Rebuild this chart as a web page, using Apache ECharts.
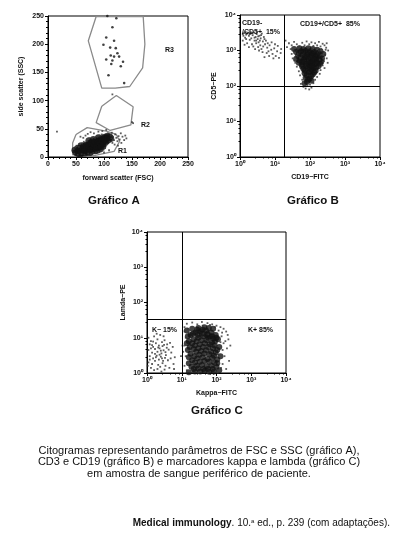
<!DOCTYPE html>
<html><head><meta charset="utf-8">
<script src="https://cdn.jsdelivr.net/npm/echarts@6/dist/echarts.min.js"></script>
<style>html,body{margin:0;padding:0;background:#fff}#c{width:398px;height:536px}</style>
</head><body><div id="c"></div>
<script>
// ---------- Tick labels ----------
const linTicks = [0, 50, 100, 150, 200, 250];
const logTickLabels = ['10\u2070', '10\u00b9', '10\u00b2', '10\u00b3', '10\u2074'];

// ---------- Gráfico A (FSC, SSC) ----------
const aCore = [[50,9],[54,12],[52,7],[57,10],[58,15],[61,8],[62,13],[63,18],[66,11],[67,16],[68,21],[70,9],[71,14],[72,19],[74,24],[75,12],[76,17],[78,22],[79,27],[80,14],[82,19],[83,25],[85,16],[86,21],[87,29],[88,12],[89,24],[91,18],[92,28],[94,22],[95,32],[97,26],[98,19],[100,30],[101,35],[103,27],[104,33],[106,37],[108,31],[78,10],[84,11],[66,7],[59,20],[73,29],[93,14],[55,6],[81,31],[90,34],
  [48,12],[53,15],[56,8],[60,12],[64,15],[65,20],[69,12],[70,17],[73,21],[77,14],[77,25],[81,17],[82,23],[84,28],[86,14],[87,19],[90,22],[90,27],[93,25],[95,18],[96,29],[99,23],[99,33],[102,30],[105,29],[107,34],[110,36],[112,33],[75,8],[63,9],[58,5]];
const aDots = [[46,14],[47,6],[49,17],[51,20],[53,4],[55,18],[56,23],[60,5],[61,24],[64,27],[65,4],[69,28],[72,6],[74,33],[77,5],[79,33],[81,7],[84,34],[86,8],[88,37],[90,9],[92,38],[95,11],[96,40],[99,13],[102,16],[105,22],[107,42],[110,27],[112,38],[113,33],[114,43],[116,36],[118,30],[120,40],[122,34],[124,28],[126,37],[128,31],[130,42],[133,36],[136,30],[138,38],[140,33],[16,45],[58,36],[63,34],[67,38],[71,41],[76,44],[82,42],[90,45],[97,46],[104,48],[115,25],[119,22],[125,20],[131,25],[109,12],[100,8],[115,111],[150,62],[152,60]];
const aR3Dots = [[122,246],[115,230],[104,212],[118,206],[99,199],[111,194],[121,193],[124,184],[112,180],[118,178],[127,178],[104,173],[115,171],[134,169],[113,165],[130,161],[108,145],[136,131],[106,250]];
const gateR1 = [[50,40],[70,52],[104,46],[122,40],[128,28],[118,10],[80,2],[44,4],[44,25],[50,40]];
const gateR2 = [[96,90],[122,109],[152,89],[148,57],[111,47],[86,61],[96,90]];
const gateR3 = [[86,249],[170,249],[173,200],[169,158],[146,125],[120,122],[96,122],[72,206],[86,249]];

// ---------- Gráfico B (CD19-FITC, CD5-PE) ----------
const bLeft = [[1.3,3100],[1.5,2800],[1.4,2300],[1.7,3200],[1.8,2600],[2.0,3000],[2.1,2200],[2.3,2700],[2.5,3200],[2.6,1900],[2.8,2400],[3.0,2900],[3.2,2100],[3.4,1700],[3.6,2600],[3.9,2200],[4.2,3000],[4.5,1800],[4.8,2400],[5.2,1500],[1.2,1900],[1.6,1600],[1.9,2000],[2.2,1500],[2.4,1300],[2.9,1600],[3.3,1250],[3.8,1400],[4.1,1100],[4.6,1300],[5.5,1900],[6.0,1200],[6.5,950],[7.0,1400],[7.8,1050],[8.5,800],[9.5,1150],[10.5,700],[11.5,950],[13,620],[14.5,850],[12,1350],[9,600],[6.8,700],[5.8,850],[4.4,900],[3.5,1000],[2.7,1100],[1.8,1250],[1.35,1450],[8.0,1700],[10,1500],[1.25,2600],[2.0,3250],[3.0,3300],[1.6,3000],[15,1100],[5,650],[1.45,3300],[2.2,3200],[1.9,2900],[2.6,2300],[3.3,2500],[1.5,2100],[2.9,1900],[1.2,2900],[4.0,2700],[5.0,2100],[6.2,1600],[3.7,1900]];
const bCore = [[40,900],[55,950],[75,1000],[100,950],[130,900],[170,850],[45,700],[62,750],[85,780],[110,720],[145,700],[190,650],[50,520],[68,560],[90,600],[120,540],[160,500],[210,480],[58,400],[78,420],[100,380],[135,410],[175,360],[65,300],[85,320],[110,290],[145,270],[70,230],[92,240],[120,210],[75,170],[98,160],[82,130],[105,450],[72,650],[150,600],[95,500],[125,320],[60,480],[115,820],
  [35,1100],[50,1150],[65,1100],[90,1150],[120,1100],[160,1050],[200,950],[240,800],[220,600],[48,850],[65,900],[88,880],[125,780],[160,720],[40,580],[55,640],[80,680],[105,620],[135,560],[180,560],[48,450],[68,480],[90,430],[118,460],[155,440],[195,420],[60,350],[78,360],[98,330],[118,360],[150,330],[72,270],[102,260],[132,240],[80,200],[108,190],[88,150],[110,140],[70,120]];
const bDots = [[20,1900],[25,1600],[30,1400],[22,1250],[35,1750],[42,1500],[50,1300],[60,1650],[70,1400],[80,1800],[95,1500],[110,1700],[125,1350],[140,1600],[160,1400],[180,1750],[200,1300],[230,1550],[260,1400],[290,1200],[300,1600],[28,1100],[35,950],[30,800],[32,600],[38,450],[42,350],[48,260],[52,200],[240,900],[270,750],[300,600],[250,500],[230,380],[260,320],[200,280],[190,220],[160,180],[140,150],[125,120],[60,150],[55,115],[65,95],[85,100],[100,110],[110,90],[75,85],[95,80],[330,1000],[320,450],[280,1050],[210,1100],[150,1150],[45,1150],[65,1200],[88,1150],[115,1100],[180,1000],[220,750],[190,550],[38,650],[44,800],[52,620],[36,520]];
const bQuadX = 18.5, bQuadY = 100;

// ---------- Gráfico C (Kappa-FITC, Lamda-PE) ----------
const cLeft = [[1.1,10],[1.3,8],[1.6,11],[2.0,9],[2.4,12],[1.2,6.5],[1.5,5.5],[1.8,7],[2.2,6],[2.7,7.5],[3.2,8.5],[3.8,6.5],[1.1,4.5],[1.4,3.8],[1.7,4.8],[2.0,4.0],[2.3,5.0],[2.6,3.6],[3.0,4.4],[3.5,3.2],[4.2,4.6],[5.0,3.8],[1.2,3.0],[1.5,2.6],[1.9,3.1],[2.2,2.4],[2.5,2.9],[2.9,2.2],[3.3,2.7],[4.0,2.3],[4.8,2.6],[1.1,2.0],[1.4,1.8],[1.7,2.2],[2.1,1.7],[2.4,1.5],[2.8,1.9],[3.4,1.6],[4.4,1.4],[5.8,1.8],[1.3,1.4],[1.6,1.2],[2.0,1.3],[2.6,1.1],[3.2,1.25],[6.3,2.8],[5.5,5.5],[4.6,7.2],[3.0,11],[1.9,13],[2.8,5.8],[3.7,5.2],[1.3,5],[2.3,3.3],[1.8,2.8],[2.7,2.6],[6.0,1.3],[1.05,1.6],[9.5,3],[10.5,6],[1.5,7.8],[2.1,5.3],[3.4,3.9],[1.2,2.4],[1.7,3.5],[2.5,4.3],[1.4,6.2],[3.1,6.3]];
const cCore = [[18,12],[25,14],[35,15],[50,16],[70,14],[95,12],[16,8],[22,9],[30,10],[42,11],[58,10],[80,9.5],[110,9],[17,5.5],[24,6],[33,6.5],[46,7],[64,6.5],[88,6],[120,5.5],[18,3.5],[26,4],[36,4.2],[50,4.5],[70,4],[95,3.8],[20,2.3],[28,2.6],[40,2.8],[55,2.5],[76,2.7],[105,2.4],[19,1.5],[27,1.6],[38,1.7],[52,1.55],[72,1.6],[100,1.5],[24,1.1],[34,1.1],[46,1.15],[62,1.08],[85,1.1],[16,1.05],[120,1.2],[130,3],[45,20],[60,19],[80,18],[30,19],
  [14,16],[20,18],[28,17],[40,17],[55,13],[75,11],[100,10],[15,11],[21,13],[29,12],[38,13],[52,12],[65,11],[90,8],[14,7],[20,7],[27,8],[37,8.5],[52,8.5],[74,7.5],[15,4.5],[22,4.8],[30,5],[41,5.5],[58,5.5],[80,5],[105,4.5],[16,2.8],[23,3],[32,3.3],[45,3.6],[62,3.4],[85,3.1],[16,1.9],[24,2],[33,2.1],[45,2.2],[62,2.1],[88,2],[22,1.3],[30,1.35],[42,1.3],[57,1.3],[78,1.3],[105,1.9]];
const cDots = [[12,20],[14,25],[20,27],[28,24],[38,28],[55,26],[75,24],[100,22],[130,20],[160,18],[190,15],[210,12],[180,8],[200,5],[170,3],[150,1.8],[190,1.3],[230,2.2],[140,11],[160,7],[12,15],[13,10],[12,6],[13,3],[12,1.6],[14,1.2],[15,18],[11,4],[250,6],[220,9],[145,14],[115,16],[90,20],[65,23],[40,22],[25,18],[150,4.5],[135,1.4],[110,1.03],[56,1.02],[30,1.02],[42,13],[85,14],[58,12.5],[32,7.8],[48,5.5],[68,8],[100,7],[130,7.5],[28,3.2],[42,3.5],[62,3.2],[85,2.2],[115,3.3],[22,1.9],[48,2],[66,1.9],[92,1.8],[110,1.25]];
const cQuadX = 10, cQuadY = 33;

// ---------- Text ----------
const titles = ['Gráfico A', 'Gráfico B', 'Gráfico C'];
const captionLines = [
  'Citogramas representando parâmetros de FSC e SSC (gráfico A),',
  'CD3 e CD19 (gráfico B) e marcadores kappa e lambda (gráfico C)',
  'em amostra de sangue periférico de paciente.'
];

// ---------- Build ----------
const FONT = '"Liberation Sans", Arial, sans-serif';
const tickLbl = {fontSize: 7, fontWeight: 'bold', color: '#111', fontFamily: FONT, margin: 4};
const nameSty = {fontSize: 7, fontWeight: 'bold', color: '#111', fontFamily: FONT};
const line = {lineStyle: {color: '#000', width: 1}};
const logFmt = v => logTickLabels[Math.round(Math.log10(v))];

function linAxis(gi, name, gap) {
  return {type: 'value', gridIndex: gi, min: linTicks[0], max: linTicks[linTicks.length - 1], interval: 50,
    axisLine: Object.assign({show: true}, line), axisTick: {show: true, length: 3, lineStyle: {color: '#000'}},
    minorTick: {show: true, splitNumber: 5, length: 2, lineStyle: {color: '#000'}},
    splitLine: {show: false}, axisLabel: Object.assign({}, tickLbl),
    name: name, nameLocation: 'middle', nameGap: gap, nameTextStyle: nameSty};
}
function logAxis(gi, name, gap) {
  return {type: 'log', logBase: 10, gridIndex: gi, min: 1, max: 10000,
    axisLine: Object.assign({show: true}, line), axisTick: {show: true, length: 3, lineStyle: {color: '#000'}},
    minorTick: {show: true, splitNumber: 5, length: 1.5, lineStyle: {color: '#000'}},
    splitLine: {show: false}, axisLabel: Object.assign({formatter: logFmt}, tickLbl),
    name: name, nameLocation: 'middle', nameGap: gap, nameTextStyle: nameSty};
}
function sc(xi, data, size, color, sym) {
  return {type: 'scatter', xAxisIndex: xi, yAxisIndex: xi, data: data, symbol: sym || 'circle',
    symbolSize: size, itemStyle: {color: color}, silent: true};
}
function gate(data) {
  return {type: 'line', xAxisIndex: 0, yAxisIndex: 0, data: data, symbol: 'none',
    lineStyle: {color: '#8a8a8a', width: 1.3}, silent: true, z: 1};
}
function quad(xi, qx, qy) {
  return {type: 'scatter', xAxisIndex: xi, yAxisIndex: xi, data: [], silent: true,
    markLine: {silent: true, symbol: 'none', label: {show: false},
      lineStyle: {color: '#000', width: 1, type: 'solid'},
      data: [{xAxis: qx}, {yAxis: qy}]}};
}
function txt(x, y, s, size, weight, align) {
  return {type: 'text', left: x, top: y, silent: true, z: 100,
    style: {text: s, fontSize: size, fontWeight: weight || 'normal', fill: '#111',
      fontFamily: FONT, textAlign: align || 'left', textVerticalAlign: 'middle'}};
}

const chart = echarts.init(document.getElementById('c'), null, {renderer: 'canvas'});
chart.setOption({
  backgroundColor: '#fff',
  animation: false,
  grid: [
    {left: 48, top: 16, width: 140, height: 141, show: true, borderColor: '#000', borderWidth: 1, backgroundColor: 'transparent'},
    {left: 240, top: 15, width: 140, height: 142, show: true, borderColor: '#000', borderWidth: 1, backgroundColor: 'transparent'},
    {left: 147, top: 232, width: 139, height: 141, show: true, borderColor: '#000', borderWidth: 1, backgroundColor: 'transparent'}
  ],
  xAxis: [linAxis(0, 'forward scatter (FSC)', 18), logAxis(1, 'CD19\u2212FITC', 17), logAxis(2, 'Kappa\u2212FITC', 17)],
  yAxis: [linAxis(0, 'side scatter (SSC)', 23), logAxis(1, 'CD5\u2212PE', 22), logAxis(2, 'Lamda\u2212PE', 20)],
  series: [
    gate(gateR1), gate(gateR2), gate(gateR3),
    sc(0, aCore, 7, '#111'), sc(0, aDots, 1.8, '#333', 'rect'), sc(0, aR3Dots, 2.6, '#111'),
    quad(1, bQuadX, bQuadY),
    sc(1, bLeft, 1.8, '#333', 'rect'), sc(1, bCore, 6, '#111'), sc(1, bDots, 1.8, '#333', 'rect'),
    quad(2, cQuadX, cQuadY),
    sc(2, cLeft, 1.8, '#333', 'rect'), sc(2, cCore, 6, '#111'), sc(2, cDots, 1.8, '#333', 'rect')
  ],
  graphic: [
    txt(165, 47, 'R3', 7, 'bold'), txt(141, 122, 'R2', 7, 'bold'), txt(118, 148, 'R1', 7, 'bold'),
    txt(242, 20, 'CD19-', 7, 'bold'), txt(242, 29, '/CD5+  15%', 7, 'bold'), txt(300, 21, 'CD19+/CD5+  85%', 7, 'bold'),
    txt(152, 327, 'K\u2212 15%', 7, 'bold'), txt(248, 327, 'K+ 85%', 7, 'bold'),
    {type: 'text', left: 88, top: 195, style: {text: titles[0], fontSize: 11.5, fontWeight: 'bold', fill: '#111', fontFamily: FONT}},
    {type: 'text', left: 287, top: 195, style: {text: titles[1], fontSize: 11.5, fontWeight: 'bold', fill: '#111', fontFamily: FONT}},
    {type: 'text', left: 191, top: 405, style: {text: titles[2], fontSize: 11.5, fontWeight: 'bold', fill: '#111', fontFamily: FONT}},
    {type: 'text', left: 'center', top: 445, style: {text: captionLines.join('\n'), fontSize: 11, lineHeight: 11.5, fill: '#111', fontFamily: FONT, textAlign: 'center'}},
    {type: 'text', right: 8, top: 518, style: {rich: {b: {fontWeight: 'bold', fontSize: 10, fontFamily: FONT, fill: '#111'}, n: {fontSize: 10, fontFamily: FONT, fill: '#111'}, s: {fontSize: 6, fontFamily: FONT, fill: '#111', verticalAlign: 'top', padding: [0,0,4,0]}},
      text: '{b|Medical immunology}{n|. 10.}{s|a}{n| ed., p. 239 (com adaptações).}'}}
  ]
});
</script></body></html>
